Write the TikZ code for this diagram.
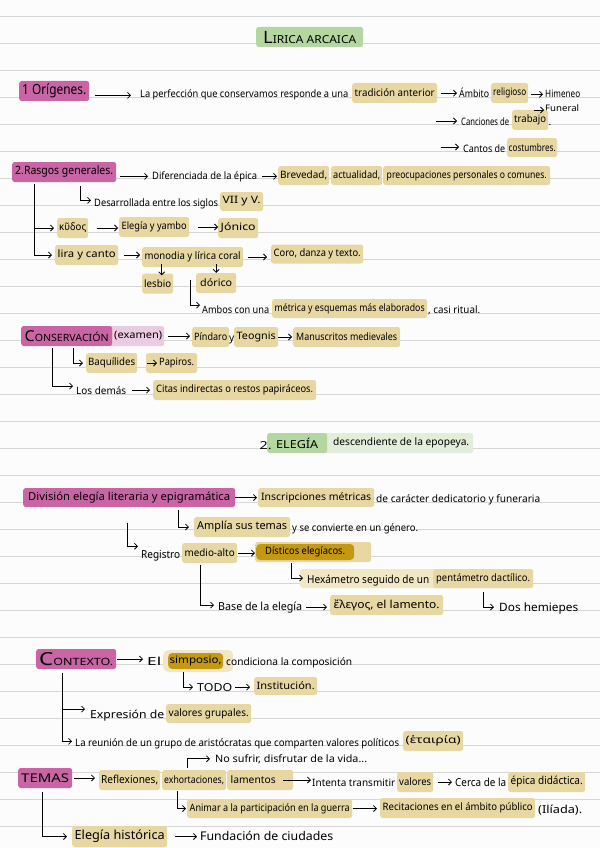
\documentclass[tikz,border=0pt]{standalone}
\usepackage{fontspec}
\setmainfont{Noto Sans}
\usepackage{graphicx}
\usetikzlibrary{arrows.meta}
\definecolor{pinkb}{RGB}{201,101,164}
\definecolor{pinkl}{RGB}{234,203,226}
\definecolor{greenb}{RGB}{180,214,160}
\definecolor{greenl}{RGB}{226,238,218}
\definecolor{tanc}{RGB}{231,216,163}
\definecolor{tanl}{RGB}{240,231,196}
\definecolor{goldc}{RGB}{196,152,18}
\definecolor{rulec}{RGB}{214,214,214}
\definecolor{bgc}{RGB}{252,252,252}
\newcommand\fw[2]{\resizebox{#1pt}{\height}{#2}}
\begin{document}
\begin{tikzpicture}[x=1pt,y=-1pt,
  font=\fontsize{10.2}{11}\selectfont,
  tx/.style={anchor=base west, inner sep=0pt},
  hl/.style={fill=tanc, rounded corners=2.5pt, inner sep=0pt, anchor=west, minimum height=19pt},
  ar/.style={-{Straight Barb[length=3pt,width=6pt]}, line width=0.75pt, shorten <=3pt, shorten >=3pt},
  ]
\fill[bgc] (0,0) rectangle (600,848);
\useasboundingbox (0,0) rectangle (600,848);
\foreach \k in {0,...,30} \draw[rulec, line width=0.9pt] (0,{16+27*\k}) -- (600,{16+27*\k});

% ---------- title
\node[hl, fill=greenb, minimum width=107pt, minimum height=20pt] (title) at (256,37) {\fw{93}{{\fontsize{17}{17}\selectfont L}{\fontsize{11}{11}\selectfont IRICA ARCAICA}}};

% ---------- 1 Origenes
\node[hl, fill=pinkb, minimum width=70pt, minimum height=20pt] (orig) at (19,91) {\fw{64}{\fontsize{14}{14}\selectfont 1 Orígenes.}};
\node[tx] (perf) at (140,98) {\fw{208}{La perfección que conservamos responde a una}};
\node[hl, minimum width=85pt, minimum height=20pt] (trad) at (352,93) {\fw{80}{tradición anterior}};
\node[tx] (amb) at (459,98) {\fw{30}{Ámbito}};
\node[hl, minimum width=37pt, minimum height=20pt] (relig) at (491,93) {\fw{33}{religioso}};
\node[tx] (himen) at (545,98) {\fw{35}{Himeneo}};
\node[tx, font=\fontsize{9}{9}\selectfont] (fun) at (545,112) {\fw{34}{Funeral}};
\coordinate (funs) at (534,110);
\node[tx] (canc) at (461,125) {\fw{48}{Canciones de}};
\node[hl, minimum width=36pt, minimum height=20pt] (trab) at (512,120) {\fw{32}{trabajo}};
\node[tx] (trdot) at (548.5,125) {.};
\coordinate (c1) at (436,121);
\node[tx] (cant) at (463,152) {\fw{42}{Cantos de}};
\node[hl, minimum width=50pt] (cost) at (507,147.5) {\fw{47}{costumbres.}};
\coordinate (c2) at (441,147);
\draw[ar, shorten <=6pt, shorten >=9pt] (perf.west -| orig.east) -- (perf.west);
\draw[ar, shorten <=4pt, shorten >=2pt] (amb.west -| trad.east) -- (amb.west);
\draw[ar, shorten >=2pt] (himen.west -| relig.east) -- (himen.west);
\draw[ar, shorten <=0pt, shorten >=1pt] (funs) -- (funs -| fun.west);
\draw[ar, shorten <=0pt, shorten >=4pt] (c1) -- (c1 -| canc.west);
\draw[ar, shorten <=0pt, shorten >=4pt] (c2) -- (c2 -| cant.west);

% ---------- 2 Rasgos generales
\node[hl, fill=pinkb, minimum width=104pt, minimum height=20pt] (rasgos) at (12,172) {\fw{98}{\fontsize{11.5}{12}\selectfont 2.Rasgos generales.}};
\node[tx] (dif) at (152,179) {\fw{105}{Diferenciada de la épica}};
\node[hl, minimum width=51pt] (brev) at (278,175.5) {\fw{47}{Brevedad,}};
\node[hl, minimum width=51pt] (act) at (331,175.5) {\fw{47}{actualidad,}};
\node[hl, minimum width=167pt] (preo) at (383,175.5) {\fw{160}{preocupaciones personales o comunes.}};
\draw[ar, shorten <=4pt, shorten >=4pt] (dif.west -| rasgos.east) -- (dif.west);
\draw[ar, shorten <=5pt, shorten >=1pt] (dif.east) -- (dif.east -| brev.west);

\node[tx] (desa) at (94,206) {\fw{124}{Desarrollada entre los siglos}};
\node[hl, minimum width=43pt] (sig) at (220,201.5) {\fw{38}{VII y V.}};
\draw[ar, shorten <=0pt] ([shift={(68,4)}]rasgos.south west) |- ([shift={(0,-3)}]desa.west);

\node[hl, minimum width=31pt, minimum height=20pt] (kudos) at (57,228) {\fw{27}{κῦδος}};
\node[hl, minimum width=70pt, minimum height=20pt] (eleg) at (119,227) {\fw{65}{Elegía y yambo}};
\node[hl, minimum width=40pt, minimum height=20pt] (jon) at (218,228) {\fw{35}{Jónico}};
\node[hl, minimum width=63pt, minimum height=20pt] (lira) at (55,255) {\fw{58}{lira y canto}};
\node[hl, minimum width=101pt, minimum height=20pt] (mono) at (142,257) {\fw{96}{monodia y lírica coral}};
\node[hl, minimum width=92pt] (coro) at (271,254) {\fw{87}{Coro, danza y texto.}};
\draw[ar, shorten <=0pt] ([shift={(22,2)}]rasgos.south west) |- (kudos.west);
\draw[ar, shorten <=0pt] ([shift={(22,2)}]rasgos.south west) |- (lira.west);
\draw[ar, shorten <=9pt, shorten >=1pt] (kudos.east) -- (kudos.east -| eleg.west);
\draw[ar, shorten <=9pt, shorten >=0pt] (eleg.east) -- (eleg.east -| jon.west);
\draw[ar, shorten <=6pt, shorten >=2pt] (lira.east) -- (lira.east -| mono.west);
\draw[ar, shorten <=5pt, shorten >=4pt] (mono.east) -- (mono.east -| coro.west);
\node[hl, minimum width=31pt, minimum height=20pt] (lesb) at (142,283.5) {\fw{27}{lesbio}};
\node[hl, minimum width=40pt, minimum height=20pt] (dor) at (196,283) {\fw{32}{dórico}};
\draw[ar, shorten <=-3pt, shorten >=-2pt] ([xshift=4pt]lesb.north |- mono.south) -- ([xshift=4pt]lesb.north);
\draw[ar, shorten <=-3pt, shorten >=0pt] (dor.north |- mono.south) -- (dor.north);

\node[tx] (ambos) at (202,313) {\fw{67}{Ambos con una}};
\node[hl, minimum width=155pt] (metr) at (272,308.5) {\fw{150}{métrica y esquemas más elaborados}};
\node[tx] (casi) at (428,313) {\fw{52}{, casi ritual.}};
\draw[ar, shorten <=0pt, shorten >=2pt] ([shift={(48,13)}]mono.south west) |- ([shift={(0,-4)}]ambos.west);

% ---------- Conservacion
\node[hl, fill=pinkl, minimum width=56pt, minimum height=20pt] (exam) at (108,336) {\hspace*{4pt}\fw{48}{(examen)}};
\node[hl, fill=pinkb, minimum width=91pt, minimum height=20pt] (cons) at (21,336) {\fw{84}{{\fontsize{15}{15}\selectfont C}{\fontsize{10}{10}\selectfont ONSERVACIÓN}}};
\node[hl, minimum width=37pt, minimum height=20pt] (pind) at (192,337) {\fw{33}{Píndaro}};
\node[tx] (yy) at (229,341) {y};
\node[hl, minimum width=44pt, minimum height=20pt] (teog) at (234,337) {\fw{39}{Teognis}};
\node[hl, minimum width=107pt, minimum height=20pt] (manu) at (293,337) {\fw{101}{Manuscritos medievales}};
\draw[ar, shorten <=4pt, shorten >=2pt] (exam.east) -- (exam.east -| pind.west);
\draw[ar, shorten <=0pt, shorten >=1pt] (teog.east) -- (teog.east -| manu.west);

\node[hl, minimum width=51pt, minimum height=20pt] (baq) at (86,363) {\fw{47}{Baquílides}};
\node[hl, minimum width=51pt, minimum height=20pt] (pap) at (146,363) {\hspace*{10pt}\fw{35}{Papiros.}};
\draw[ar, shorten <=0pt] ([shift={(52,2)}]cons.south west) |- (baq.west);
\draw[ar, shorten <=10pt, shorten >=0pt] (baq.east) -- ([xshift=11pt]pap.west);

\node[tx] (dem) at (76,394) {\fw{50}{Los demás}};
\node[hl, minimum width=163pt, minimum height=20pt] (citas) at (153,390) {\fw{157}{Citas indirectas o restos papiráceos.}};
\draw[ar, shorten <=0pt] ([shift={(31,2)}]cons.south west) |- ([shift={(0,-4)}]dem.west);
\draw[ar, shorten <=6pt, shorten >=3pt] (dem.east) -- (dem.east -| citas.west);

% ---------- 2. Elegia
\node[hl, fill=greenl, minimum width=153pt, minimum height=20pt] (desc) at (320,443) {\hspace*{9pt}\fw{136}{descendiente de la epopeya.}};
\node[hl, fill=greenb, minimum width=60pt, minimum height=20pt] (elegia) at (267,443) {\fw{42}{\fontsize{11}{11}\selectfont ELEGÍA}};
\node[tx] (dos) at (259.5,449) {\fw{12}{\fontsize{11}{11}\selectfont 2.}};

\node[hl, fill=pinkb, minimum width=212pt] (div) at (23,497.5) {\fw{202}{\fontsize{11}{11}\selectfont División elegía literaria y epigramática}};
\node[hl, minimum width=116pt] (insc) at (258,497.5) {\fw{110}{Inscripciones métricas}};
\node[tx] (dedic) at (376,502) {\fw{164}{de carácter dedicatorio y funeraria}};
\draw[ar, shorten <=0pt, shorten >=1pt] (div.east) -- (div.east -| insc.west);

\node[hl, minimum width=96pt, minimum height=20pt] (ampl) at (194,527) {\fw{90}{\fontsize{11}{11}\selectfont Amplía sus temas}};
\node[tx] (gen) at (292,531) {\fw{126}{y se convierte en un género.}};
\draw[ar, shorten <=0pt, shorten >=5pt] ([shift={(155,3)}]div.south west) |- (ampl.west);

\node[tx] (reg) at (141,558) {\fw{39}{\fontsize{11}{11}\selectfont Registro}};
\node[hl, minimum width=55pt, minimum height=20pt] (medio) at (182,553) {\fw{50}{medio-alto}};
\draw[ar, shorten <=0pt] ([shift={(104,16)}]div.south west) |- ([shift={(0,-9)}]reg.west);
\node[hl, fill=tanc, minimum width=116pt, minimum height=20pt] (distbg) at (255,552) {};
\node[hl, fill=goldc, minimum width=98pt, minimum height=16pt, rounded corners=4pt] (dist) at (256,552) {\fw{80}{Dísticos elegíacos.}};
\draw[ar, shorten <=1pt, shorten >=0pt] (medio.east) -- (medio.east -| distbg.west);

\node[hl, fill=tanl, minimum width=233pt] (hexbg) at (300,578.5) {};
\node[hl, minimum width=100pt] (pent) at (433,578.5) {\fw{94}{pentámetro dactílico.}};
\node[tx] (hex) at (307,583) {\fw{122}{\fontsize{11}{11}\selectfont Hexámetro seguido de un}};
\draw[ar, shorten <=0pt, shorten >=4pt] ([shift={(36,1)}]distbg.south west) |- ([shift={(0,-2)}]hex.west);

\node[tx] (base) at (218,610) {\fw{84}{\fontsize{11}{11}\selectfont Base de la elegía}};
\node[hl, minimum width=113pt, minimum height=20pt] (lam) at (330,605) {\fw{106}{\fontsize{11}{11}\selectfont ἔλεγος, el lamento.}};
\draw[ar, shorten <=0pt, shorten >=4pt] ([shift={(18,2)}]medio.south west) |- ([shift={(0,-2)}]base.west);
\draw[ar, shorten <=4pt, shorten >=3pt] (base.east) -- (base.east -| lam.west);

\node[tx] (hemi) at (499,611) {\fw{79}{\fontsize{11.5}{12}\selectfont Dos hemiepes}};
\draw[ar, shorten <=0pt, shorten >=5pt] ([shift={(50,4)}]pent.south west) |- ([shift={(0,-1)}]hemi.west);

% ---------- Contexto
\node[hl, fill=pinkb, minimum width=80pt, minimum height=20pt] (ctx) at (36,659) {\fw{74}{{\fontsize{18}{18}\selectfont C}{\fontsize{10}{10}\selectfont ONTEXTO.}}};
\node[tx] (el) at (147,665) {\fw{14}{\fontsize{11}{11}\selectfont El}};
\node[hl, fill=tanl, minimum width=70pt, minimum height=22pt, rounded corners=5pt] (simbg) at (163,661) {};
\node[hl, fill=goldc, minimum width=55pt, minimum height=16pt, rounded corners=4pt] (sim) at (168,661) {\fw{52}{simposio,}};
\node[tx] (cond) at (226,665) {\fw{126}{condiciona la composición}};
\draw[ar, shorten <=1pt, shorten >=4pt] (ctx.east) -- (ctx.east -| el.west);

\node[tx] (todo) at (197,691) {\fw{35}{\fontsize{11}{11}\selectfont TODO}};
\node[hl, minimum width=63pt, minimum height=18pt] (inst) at (254,686) {\fw{58}{Institución.}};
\draw[ar, shorten <=0pt, shorten >=4pt] ([shift={(15,3)}]sim.south west) |- (todo.west);
\draw[ar, shorten <=3pt, shorten >=4pt] (todo.east) -- (todo.east -| inst.west);

\node[tx] (expr) at (90,718) {\fw{74}{\fontsize{11}{11}\selectfont Expresión de}};
\node[hl, minimum width=85pt] (valg) at (166,713.5) {\fw{80}{valores grupales.}};
\draw[ar, shorten <=0pt, shorten >=5pt] ([shift={(26,4)}]ctx.south west) |- ([shift={(0,-6)}]expr.west);

\node[tx] (reun) at (75,746) {\fw{324}{La reunión de un grupo de aristócratas que comparten valores políticos}};
\node[hl, minimum width=60pt, minimum height=20pt] (het) at (403,741) {\fw{55}{(ἑταιρία)}};
\draw[ar, shorten <=0pt, shorten >=3pt] ([shift={(26,4)}]ctx.south west) |- ([shift={(0,-2)}]reun.west);

% ---------- Temas
\node[hl, fill=pinkb, minimum width=54pt, minimum height=20pt] (temas) at (18,778) {\fw{48}{\fontsize{12}{12}\selectfont TEMAS}};
\node[hl, minimum width=61pt, minimum height=20pt] (refl) at (99,780) {\fw{57}{\fontsize{11}{11}\selectfont Reflexiones,}};
\node[hl, minimum width=64pt, minimum height=20pt] (exh) at (162,780) {\fw{60}{exhortaciones,}};
\node[hl, minimum width=66pt, minimum height=20pt] (lamt) at (227,780) {\hspace*{-14pt}\fw{45}{lamentos}};
\draw[ar, shorten <=2pt, shorten >=4pt] (temas.east) -- (temas.east -| refl.west);

\node[tx] (int) at (312,786) {\fw{83}{Intenta transmitir}};
\node[hl, minimum width=36pt, minimum height=20pt] (val) at (397,782) {\fw{32}{valores}};
\node[tx] (cerca) at (455,786) {\fw{51}{\fontsize{11}{11}\selectfont Cerca de la}};
\node[hl, minimum width=77pt, minimum height=20pt] (epic) at (508,782) {\fw{72}{\fontsize{11}{11}\selectfont épica didáctica.}};
\draw[ar, shorten <=-10pt, shorten >=1pt] (lamt.east) -- (lamt.east -| int.west);
\draw[ar, shorten <=5pt, shorten >=3pt] (val.east) -- (val.east -| cerca.west);

\node[tx] (nosuf) at (215,762) {\fw{152}{No sufrir, disfrutar de la vida...}};
\draw[ar, shorten <=0pt, shorten >=5pt] ([shift={(25,-2)}]exh.north west) |- (nosuf.west);

\node[hl, minimum width=165pt] (anim) at (187,808.5) {\fw{160}{Animar a la participación en la guerra}};
\node[hl, minimum width=155pt, minimum height=20pt] (recit) at (380,808) {\fw{150}{Recitaciones en el ámbito público}};
\node[tx] (ili) at (538,813) {\fw{44}{\fontsize{11}{11}\selectfont (Ilíada).}};
\draw[ar, shorten <=0pt, shorten >=1pt] ([shift={(15,1)}]exh.south west) |- (anim.west);
\draw[ar, shorten <=1pt, shorten >=3pt] (anim.east) -- (anim.east -| recit.west);

\node[hl, minimum width=95pt, minimum height=21pt] (ehist) at (72,836.5) {\fw{90}{\fontsize{12.5}{13}\selectfont Elegía histórica}};
\node[tx] (fund) at (200,840) {\fw{133}{\fontsize{12}{12}\selectfont Fundación de ciudades}};
\draw[ar, shorten <=0pt, shorten >=5pt] ([shift={(24,4)}]temas.south west) |- (ehist.west);
\draw[ar, shorten <=8pt, shorten >=3pt] (ehist.east) -- (ehist.east -| fund.west);
\end{tikzpicture}
\end{document}
